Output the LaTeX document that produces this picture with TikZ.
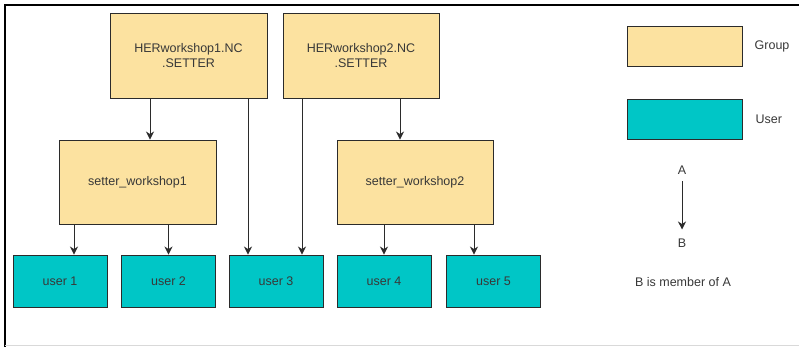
\documentclass[tikz,border=0pt]{standalone}
\usepackage{fontspec}
\setmainfont{Liberation Sans}
\usepackage{xcolor}
\definecolor{groupfill}{HTML}{FCE2A0}
\definecolor{userfill}{HTML}{00C6C6}
\definecolor{edge}{HTML}{2B2B2B}
\definecolor{txt}{HTML}{383838}
\usetikzlibrary{positioning,arrows.meta}

\begin{document}
\begin{tikzpicture}[x=1pt,y=-1pt,
      group/.style={draw=edge,fill=groupfill,line width=0.9pt,minimum width=157pt,minimum height=85pt,align=center,text=txt,font=\fontsize{12.5}{15}\selectfont},
      user/.style={draw=edge,fill=userfill,line width=0.9pt,minimum width=94pt,minimum height=52pt,text=txt,font=\fontsize{12.5}{15}\selectfont},
      label/.style={text=txt,inner sep=0pt,font=\fontsize{12.5}{15}\selectfont},
      arrow/.style={-{Stealth[length=8pt,width=8pt,inset=2.5pt]},line width=0.9pt,color=edge}]
      \useasboundingbox (0,0) rectangle (799,347);
      \draw[line width=2.2pt] (5,347) -- (5,5) -- (799,5);
      \draw[black!15,line width=1pt] (5,345.5) -- (799,345.5);
      % groups
      \node[group] (her1) at (188.5,55.5) {HERworkshop1.NC\\.SETTER};
      \node[group,minimum width=156pt] (her2) at (361,55.5) {HERworkshop2.NC\\.SETTER};
      \node[group,minimum height=84pt] (setter1) at (137.5,182) {setter\_workshop1};
      \node[group,minimum width=156pt,minimum height=84pt] (setter2) at (415,182) {setter\_workshop2};
      % users
      \node[user] (user1) at (60,281) {user 1};
      \node[user] (user2) at (168.5,281) {user 2};
      \node[user] (user3) at (276,281) {user 3};
      \node[user] (user4) at (384,281) {user 4};
      \node[user] (user5) at (493.5,281) {user 5};
      \draw[arrow] ([xshift=12.5pt]setter1.north |- her1.south) -- ([xshift=12.5pt]setter1.north);
      \draw[arrow] ([xshift=-15pt]setter2.north |- her2.south) -- ([xshift=-15pt]setter2.north);
      \draw[arrow] ([xshift=14pt]user1.north |- setter1.south) -- ([xshift=14pt]user1.north);
      \draw[arrow] (user2.north |- setter1.south) -- (user2.north);
      \draw[arrow] ([xshift=-28pt]user3.north |- her1.south) -- ([xshift=-28pt]user3.north);
      \draw[arrow] ([xshift=26pt]user3.north |- her2.south) -- ([xshift=26pt]user3.north);
      \draw[arrow] (user4.north |- setter2.south) -- (user4.north);
      \draw[arrow] ([xshift=-19.5pt]user5.north |- setter2.south) -- ([xshift=-19.5pt]user5.north);
      % legend
      \node[group,minimum width=115pt,minimum height=40pt] (legendgroup) at (684.5,46) {};
      \node[user,minimum width=115pt,minimum height=40pt] (legenduser) at (684.5,119) {};
      \node[label,right=12pt of legendgroup] {Group};
      \node[label,right=13pt of legenduser] {User};
      \node[label] (a) at (682,170) {A};
      \node[label] (b) at (682,243) {B};
      \draw[arrow] ([yshift=-7pt]a.south) -- ([yshift=9pt]b.north);
      \node[label] (member) at (683,282) {B is member of A};
    \end{tikzpicture}
\end{document}
